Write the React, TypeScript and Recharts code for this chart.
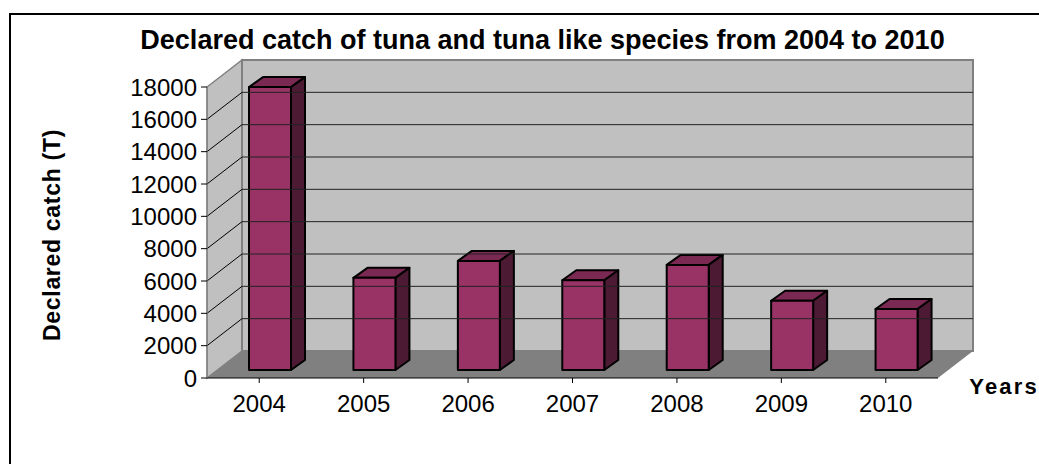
import React from "react";
import { BarChart, Bar, XAxis, YAxis, ReferenceArea, ReferenceLine } from "recharts";

const years = ["2004", "2005", "2006", "2007", "2008", "2009", "2010"];
const catches = [17500, 5700, 6750, 5550, 6500, 4280, 3770];
const yTicks = [0, 2000, 4000, 6000, 8000, 10000, 12000, 14000, 16000, 18000];
const titleText = "Declared catch of tuna and tuna like species from 2004 to 2010";
const yTitle = "Declared catch (T)";
const xTitle = "Years";

const data = years.map((year, i) => ({ year, value: catches[i] }));

const FONT = "'Liberation Sans', Arial, sans-serif";
const DX = 35;
const DY = 27;
const BAR_DX = 14;
const BAR_DY = 10;
const BAR_SHIFT_X = 11;
const BAR_SHIFT_Y = 8;

function Walls(props: any) {
  const { x, y, width, height } = props;
  const r = x + width;
  const b = y + height;
  return (
    <g>
      <polygon points={`${x},${b} ${x},${y} ${x + DX},${y - DY} ${x + DX},${b - DY}`} fill="#c0c0c0" stroke="#808080" strokeWidth={1.5} />
      <rect x={x + DX} y={y - DY} width={width} height={height} fill="#c0c0c0" stroke="#808080" strokeWidth={2} />
      <polygon points={`${x},${b} ${x + DX},${b - DY} ${r + DX},${b - DY} ${r},${b}`} fill="#808080" />
    </g>
  );
}

function GridLine(props: any) {
  const { x1, y1, x2 } = props;
  return (
    <g>
      <line x1={x1} y1={y1} x2={x1 + DX} y2={y1 - DY} stroke="#000" strokeWidth={1} />
      <line x1={x1 + DX} y1={y1 - DY} x2={x2 + DX} y2={y1 - DY} stroke="#222" strokeWidth={1} />
    </g>
  );
}

function Bar3D(props: any) {
  const { x, y, width, height } = props;
  const l = x + BAR_SHIFT_X;
  const t = y - BAR_SHIFT_Y;
  const r = l + width;
  const b = t + height;
  const line = { stroke: "#000", strokeWidth: 2, strokeLinejoin: "round" as const };
  return (
    <g>
      <polygon points={`${l},${t} ${l + BAR_DX},${t - BAR_DY} ${r + BAR_DX},${t - BAR_DY} ${r},${t}`} fill="#7a2952" {...line} />
      <polygon points={`${r},${t} ${r + BAR_DX},${t - BAR_DY} ${r + BAR_DX},${b - BAR_DY} ${r},${b}`} fill="#4d1a33" {...line} />
      <rect x={l} y={t} width={width} height={height} fill="#993366" {...line} />
    </g>
  );
}

export default function App() {
  return (
    <div style={{ position: "absolute", left: 0, top: 0, width: 1039, height: 464, overflow: "hidden", background: "#fff" }}>
      <div style={{ position: "absolute", left: 9, top: 13, width: 1100, height: 520, border: "2px solid #000" }} />
      <div style={{ position: "absolute", left: 0, top: 0 }}>
        <BarChart
          width={1039}
          height={464}
          data={data}
          margin={{ top: 87, right: 101, bottom: 56, left: 147 }}
          style={{ fontFamily: FONT }}
        >
          <ReferenceArea y1={0} y2={18000} ifOverflow="visible" shape={<Walls />} />
          {yTicks.slice(1, -1).map((t) => (
            <ReferenceLine key={t} y={t} ifOverflow="visible" shape={<GridLine />} />
          ))}
          <XAxis
            dataKey="year"
            height={30}
            tickSize={5}
            tickMargin={12}
            stroke="#000"
            tick={{ fill: "#000", fontSize: 24, fontFamily: FONT }}
            interval={0}
            label={{ value: xTitle, position: "insideRight", dx: 106, dy: -7, fontSize: 22, fontWeight: 700, fill: "#000", letterSpacing: 2.2, fontFamily: FONT }}
          />
          <YAxis
            width={60}
            domain={[0, 18000]}
            ticks={yTicks}
            interval={0}
            tickSize={6}
            tickMargin={4}
            stroke="#000"
            axisLine={{ stroke: "#808080" }}
            tick={{ fill: "#000", fontSize: 24, fontFamily: FONT }}
          />
          <Bar dataKey="value" barSize={42} isAnimationActive={false} shape={<Bar3D />} />
          <text x={542.5} y={49} textAnchor="middle" fontSize={27} fontWeight={700} fontFamily={FONT} fill="#000">{titleText}</text>
          <text x={60} y={235} transform="rotate(-90 60 235)" textAnchor="middle" fontSize={23} letterSpacing={0.7} fontWeight={700} fontFamily={FONT} fill="#000">{yTitle}</text>
        </BarChart>
      </div>
    </div>
  );
}
